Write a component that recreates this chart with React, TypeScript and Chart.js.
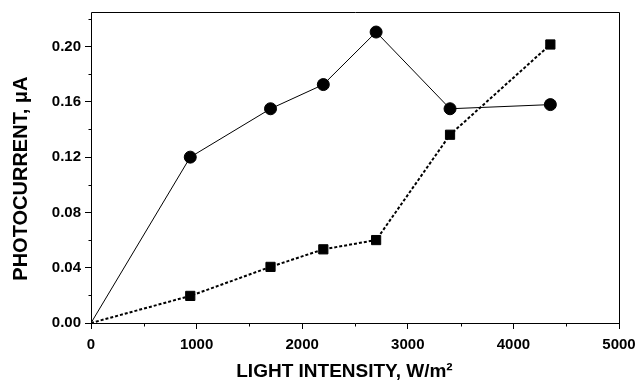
import React, { useEffect, useRef } from "react";
import { Chart, registerables } from "chart.js";

Chart.register(...registerables);

const intensityCircles = [0, 940, 1700, 2200, 2700, 3400, 4350];
const currentCircles = [0, 0.12, 0.155, 0.1725, 0.2105, 0.155, 0.158];
const intensitySquares = [0, 940, 1700, 2200, 2700, 3400, 4350];
const currentSquares = [0, 0.0196, 0.0406, 0.0533, 0.06, 0.1362, 0.2015];
const xTicks = [0, 1000, 2000, 3000, 4000, 5000];
const yTicks = [0, 0.04, 0.08, 0.12, 0.16, 0.2];
const xMinorTicks = [500, 1500, 2500, 3500, 4500];
const yMinorTicks = [0.02, 0.06, 0.1, 0.14, 0.18, 0.22];

const FONT = "'Liberation Sans', Arial, sans-serif";

const boxAndMinor = {
  id: "boxAndMinor",
  afterDraw(chart: any) {
    const { ctx, chartArea } = chart;
    const xs = chart.scales.x;
    const ys = chart.scales.y;
    ctx.save();
    ctx.strokeStyle = "#000";
    ctx.lineWidth = 1;
    const l = Math.round(xs.getPixelForValue(0)) + 0.5;
    const r = Math.round(xs.getPixelForValue(5000)) + 0.5;
    const b = Math.round(ys.getPixelForValue(0)) + 0.5;
    const t = Math.round(chartArea.top) + 0.5;
    ctx.beginPath();
    ctx.moveTo(l, t);
    ctx.lineTo(r, t);
    ctx.lineTo(r, b);
    ctx.lineTo(l, b);
    ctx.closePath();
    ctx.stroke();
    ctx.beginPath();
    for (const v of xMinorTicks) {
      const px = Math.round(xs.getPixelForValue(v)) + 0.5;
      ctx.moveTo(px, b);
      ctx.lineTo(px, b + 3);
    }
    for (const v of yMinorTicks) {
      const py = Math.round(ys.getPixelForValue(v)) + 0.5;
      ctx.moveTo(l, py);
      ctx.lineTo(l - 3, py);
    }
    ctx.stroke();
    ctx.restore();
  },
};

export default function App() {
  const ref = useRef<HTMLCanvasElement>(null);
  useEffect(() => {
    document.body.style.margin = "0";
    const chart = new Chart(ref.current!, {
      type: "line",
      data: {
        datasets: [
          {
            data: intensityCircles.map((x, i) => ({ x, y: currentCircles[i] })),
            borderColor: "#000",
            borderWidth: 1,
            backgroundColor: "#000",
            pointStyle: "circle",
            pointRadius: (c: any) => (c.dataIndex === 0 ? 0 : 6),
            pointBorderWidth: 1,
            pointBorderColor: "#000",
            pointBackgroundColor: "#000",
          },
          {
            data: intensitySquares.map((x, i) => ({ x, y: currentSquares[i] })),
            borderColor: "#000",
            borderWidth: 2,
            borderDash: [3, 2],
            backgroundColor: "#000",
            pointStyle: "rect",
            pointRadius: (c: any) => (c.dataIndex === 0 ? 0 : 6.5),
            pointBorderWidth: 1,
            pointBorderColor: "#000",
            pointBackgroundColor: "#000",
          },
        ],
      },
      options: {
        animation: false,
        responsive: false,
        devicePixelRatio: 1,
        layout: { padding: { left: 0, top: 12, right: 20, bottom: 0 } },
        plugins: { legend: { display: false }, tooltip: { enabled: false } },
        scales: {
          x: {
            type: "linear",
            min: 0,
            max: 5000,
            afterBuildTicks: (s: any) => {
              s.ticks = xTicks.map((v) => ({ value: v }));
            },
            afterFit: (s: any) => {
              s.height = 60;
              s.paddingLeft = 0;
              s.paddingRight = 0;
            },
            grid: { drawOnChartArea: false, tickLength: 6, color: "#000", tickColor: "#000" },
            border: { display: false },
            ticks: {
              color: "#000",
              padding: 7,
              maxRotation: 0,
              font: { family: FONT, size: 15, weight: "bold" },
              callback: (v: any) => String(v),
            },
            title: {
              display: true,
              text: "LIGHT INTENSITY, W/m²    ",
              color: "#000",
              font: { family: FONT, size: 19, weight: "bold" },
              padding: { top: 4, bottom: 0 },
            },
          },
          y: {
            type: "linear",
            min: 0,
            max: 0.225,
            afterBuildTicks: (s: any) => {
              s.ticks = yTicks.map((v) => ({ value: v }));
            },
            afterFit: (s: any) => {
              s.width = 91;
              s.paddingTop = 0;
              s.paddingBottom = 0;
            },
            grid: { drawOnChartArea: false, tickLength: 6, color: "#000", tickColor: "#000" },
            border: { display: false },
            ticks: {
              color: "#000",
              padding: 4,
              font: { family: FONT, size: 15, weight: "bold" },
              callback: (v: any) => Number(v).toFixed(2),
            },
            title: {
              display: true,
              text: "PHOTOCURRENT, μA    ",
              color: "#000",
              font: { family: FONT, size: 20, weight: "bold" },
              padding: { top: 9, bottom: 4 },
            },
          },
        },
      },
      plugins: [boxAndMinor],
    } as any);
    return () => chart.destroy();
  }, []);
  return <canvas ref={ref} width={639} height={383} style={{ display: "block" }} />;
}
